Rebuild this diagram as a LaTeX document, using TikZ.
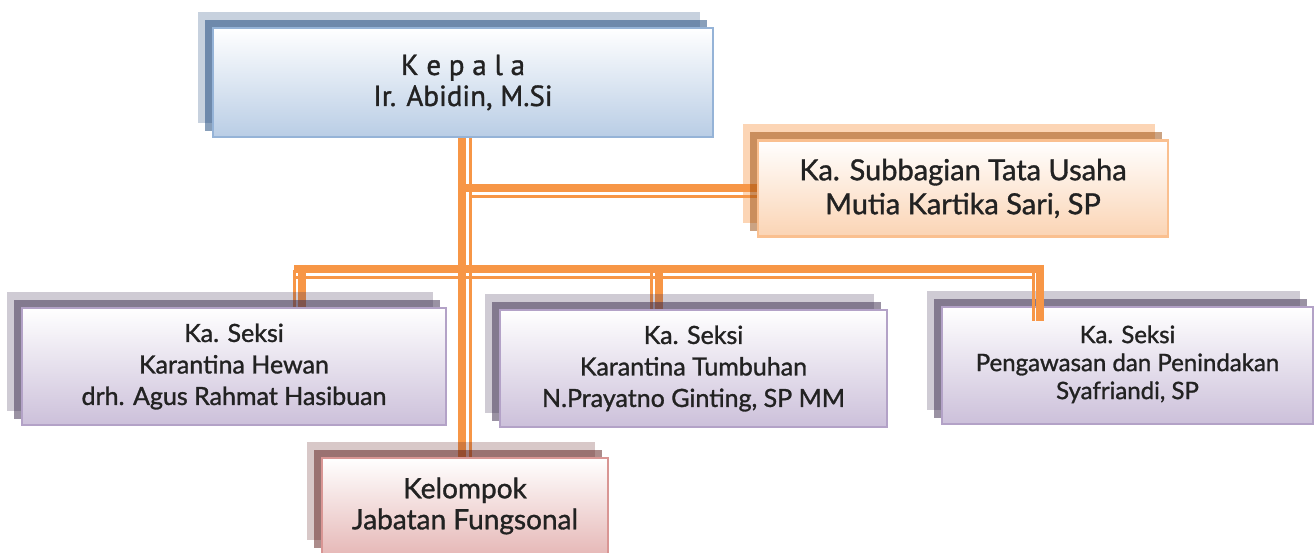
\documentclass[tikz,border=0pt]{standalone}
\usepackage{fontspec}
\setmainfont{Lato}[RawFeature={embolden=1.2}]
\newfontfamily\kepfont{PT Sans}[RawFeature={embolden=1.2}]
\pgfdeclarelayer{conn}
\pgfdeclarelayer{shad}
\pgfdeclarelayer{front}
\pgfsetlayers{conn,shad,main,front}
\definecolor{ln}{HTML}{F79646}
\definecolor{bluebot}{HTML}{B9CDE5}
\definecolor{blueedge}{HTML}{95B3D7}
\definecolor{blueshade}{HTML}{1F497D}
\definecolor{purpbot}{HTML}{CCC0DA}
\definecolor{purpedge}{HTML}{B3A2C7}
\definecolor{purpshade}{HTML}{403152}
\definecolor{orbot}{HTML}{FBD4B4}
\definecolor{oredge}{HTML}{FAC090}
\definecolor{orlight}{HTML}{F79646}
\definecolor{ordark}{HTML}{984807}
\definecolor{redbot}{HTML}{E6B9B8}
\definecolor{rededge}{HTML}{D99694}
\definecolor{redshade}{HTML}{632523}
\definecolor{txt}{HTML}{222222}
\tikzset{
  mainbox/.style={rectangle, line width=2.2pt, inner sep=0pt, align=center, text=txt},
  boxblue/.style={mainbox, draw=blueedge, top color=white, bottom color=bluebot},
  boxpurp/.style={mainbox, draw=purpedge, top color=white, bottom color=purpbot},
  boxor/.style={mainbox, draw=oredge, top color=white, bottom color=orbot},
  boxred/.style={mainbox, draw=rededge, top color=white, bottom color=redbot},
  shlight/.style={fill=#1, fill opacity=.25},
  shdark/.style={fill=#1, fill opacity=.53},
  thickln/.style={draw=ln, line width=8pt},
  thinln/.style={draw=ln, line width=3pt},
  seksifont/.style={font=\fontsize{25}{31.5}\selectfont},
}
\newcommand\shadowpair[3]{%
  \fill[#2] ([shift={(-14,-15)}]#1.north west) rectangle ([shift={(-14,-15)}]#1.south east);
  \fill[#3] ([shift={(-7,-7)}]#1.north west) rectangle ([shift={(-7,-7)}]#1.south east);
}
\begin{document}
\begin{tikzpicture}[x=1pt,y=-1pt]
\useasboundingbox (0,0) rectangle (1314,553);
% boxes
\node[boxblue, minimum width=500, minimum height=109, font=\kepfont\fontsize{29}{31}\selectfont] (kep) at (463,82.5)
  {K e p a l a\\Ir. Abidin, M.Si};
\node[boxor, minimum width=410, minimum height=96, font=\fontsize{29}{34}\selectfont] (sub) at (963,188.5)
  {Ka. Subbagian Tata Usaha\\Mutia Kartika Sari, SP};
\node[boxpurp, seksifont, minimum width=424, minimum height=117] (hew) at (234,366.5)
  {Ka. Seksi\\Karantina Hewan\\drh. Agus Rahmat Hasibuan};
\node[boxpurp, seksifont, minimum width=387, minimum height=117] (tum) at (693.5,368.5)
  {Ka. Seksi\\Karantina Tumbuhan\\N.Prayatno Ginting, SP MM\hspace{38pt}};
\node[boxpurp, minimum width=371, minimum height=117] (pen) at (1127.5,365.5)
  {\raisebox{10pt}{\fontsize{24}{28}\selectfont\begin{tabular}{@{}c@{}}Ka. Seksi\\Pengawasan dan Penindakan\\Syafriandi, SP\end{tabular}}};
\node[boxred, font=\fontsize{28}{31}\selectfont, minimum width=286, minimum height=96] (kel) at (465,506)
  {Kelompok\\Jabatan Fungsonal};
% shadows
\begin{pgfonlayer}{shad}
\shadowpair{kep}{shlight=blueshade}{shdark=blueshade}
\shadowpair{sub}{fill=orlight, fill opacity=.4}{fill=ordark, fill opacity=.5}
\shadowpair{hew}{shlight=purpshade}{shdark=purpshade}
\shadowpair{tum}{shlight=purpshade}{shdark=purpshade}
\shadowpair{pen}{shlight=purpshade}{shdark=purpshade}
\shadowpair{kel}{shlight=redshade}{shdark=redshade}
\end{pgfonlayer}
% connector coordinates
\coordinate (vk) at (462,0);
\coordinate (vt) at (470.5,0);
\coordinate (hs) at (0,188);
\coordinate (hst) at (0,196.5);
\coordinate (bus) at (0,269);
\coordinate (bust) at (0,277.5);
\coordinate (lk) at (302,265);
\coordinate (lt) at (294.5,270);
\coordinate (mk) at (659,265);
\coordinate (mt) at (651,265);
\coordinate (rk) at (1039.5,265);
\coordinate (rt) at (1033,273);
\coordinate (rend) at (0,321);
\coordinate (busL) at (294,0);
\coordinate (busR) at (1043.5,0);
\coordinate (bustL) at (296,0);
\coordinate (bustR) at (1031.5,0);
\begin{pgfonlayer}{conn}
\draw[thickln] (vk |- kep.south) -- (vk |- kel.north);
\draw[thinln] (vt |- kep.south) -- (vt |- kel.north);
\draw[thickln] (vk |- hs) -- (sub.west |- hs);
\draw[thinln] (vt |- hst) -- (sub.west |- hst);
\draw[thickln] (busL |- bus) -- (busR |- bus);
\draw[thinln] (bustL |- bust) -- (bustR |- bust);
\draw[thickln] (lk) -- (lk |- hew.north);
\draw[thinln] (lt) -- (lt |- hew.north);
\draw[thickln] (mk) -- (mk |- tum.north);
\draw[thinln] (mt) -- (mt |- tum.north);
\end{pgfonlayer}
\begin{pgfonlayer}{front}
\draw[thickln] (rk) -- (rk |- rend);
\draw[thinln] (rt) -- (rt |- rend);
\end{pgfonlayer}
\end{tikzpicture}
\end{document}
